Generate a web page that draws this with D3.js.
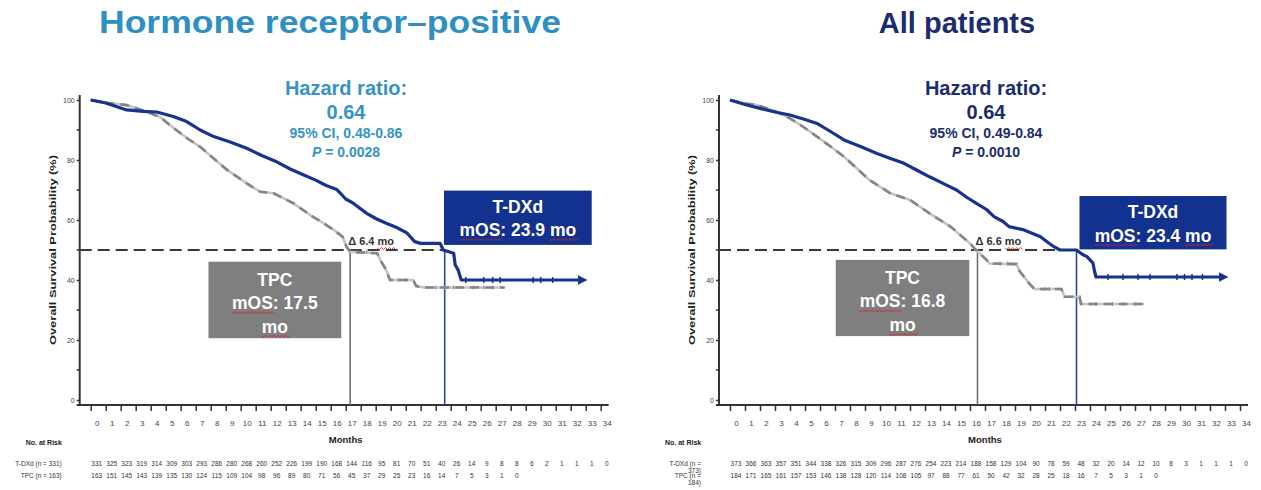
<!DOCTYPE html>
<html>
<head>
<meta charset="utf-8">
<script src="https://cdn.jsdelivr.net/npm/d3@7/dist/d3.min.js"></script>
<style>
  body { margin: 0; background: #fff; }
  svg { display: block; font-family: "Liberation Sans", Arial, sans-serif; }
</style>
</head>
<body>
<svg id="svg" width="1261" height="490"></svg>
<script>
// ---- data ----
const months = d3.range(0, 35);
const yTicks = [0, 20, 40, 60, 80, 100];
const yMinorTicks = [10, 30, 50, 70, 90];

// hormone receptor-positive: [month, survival %]
const hrTdxdCurve = [[0,100],[1,99],[2.4,96.7],[3.5,96.2],[4.4,96],[5.5,94.5],[6.4,92.8],[7.3,90],[8.2,87.8],[9.3,86],[10.4,83.9],[11.4,81.5],[12.4,79.4],[13.3,77],[14.2,75],[15,73.3],[15.7,71.5],[16.4,70.2],[17,67],[17.5,65.6],[18.4,62.2],[19,60.5],[19.7,58.9],[20.4,57.5],[21.1,55.6],[21.6,52.8],[22,52.2],[23.3,52.2],[23.5,50],[24.2,48.9],[24.3,45],[24.5,43.3],[24.7,40],[32.8,40]];
const hrTpcCurve = [[0,100],[1.2,99],[2.4,98.3],[3.5,96.5],[4.6,94.4],[5.7,90],[6.5,87],[7.3,84.4],[8.2,80.5],[9.1,76.7],[10.4,72.2],[11.3,69.4],[12.2,68.9],[13.5,65.6],[14.8,61.1],[15.5,59],[16.2,56.7],[16.8,54.4],[17.05,51.1],[17.3,49.4],[19.1,48.9],[19.3,46.7],[19.7,43.3],[19.95,40],[21.5,40],[21.7,38],[22.2,37.5],[27.6,37.5]];
const hrTdxdCensored = [25, 26.2, 26.8, 27.3, 29.5, 30, 30.8];
const hrTpcCensored = [17.8, 18.4, 20.5, 21, 23, 23.6, 24.2, 25.5, 26.2, 26.8];
const hrMedians = [17.3, 23.6];
const hrRiskTdxd = [331,325,323,319,314,309,303,293,286,280,268,260,252,226,199,190,168,144,116,95,81,70,51,40,26,14,9,8,8,6,2,1,1,1,0];
const hrRiskTpc = [163,151,145,143,139,135,130,124,115,109,104,98,96,89,80,71,56,45,37,29,25,23,16,14,7,5,3,1,0];
const hrStats = ["Hazard ratio:", "0.64", "95% CI, 0.48-0.86", "0.0028"];

// all patients
const allTdxdCurve = [[0,100],[1,98.5],[2,97.2],[3,96],[4,95],[5,93.5],[5.8,92.2],[6.7,89.5],[7.6,86.7],[8.7,84.5],[9.8,82.2],[10.7,80.5],[11.6,78.9],[12.5,76.5],[13.3,74.4],[14.2,72.2],[15.1,70],[15.8,67.5],[16.4,65.6],[17.1,63.5],[17.6,61.1],[18.2,59.5],[18.6,57.8],[19.6,56.7],[20.7,54.4],[21.2,52.5],[21.6,51.1],[22,50],[23.1,50],[23.5,48.5],[23.8,47.8],[24.2,45.6],[24.3,43],[24.4,41],[32.9,41]];
const allTpcCurve = [[0,100],[0.9,99],[1.8,98.3],[2.9,96.5],[4,93.9],[4.9,91],[5.8,87.8],[6.7,84.5],[7.6,81.1],[8.5,77],[9.3,73.3],[10.7,68.9],[12,66.7],[13.3,62.2],[14.7,57.8],[16,52.2],[16.4,50],[17.1,46.7],[17.3,45.5],[19.1,45.3],[19.3,43],[19.6,41.1],[20,38.5],[20.3,37],[22.1,37],[22.3,34.4],[23.3,34.4],[23.4,32],[27.6,32]];
const allTdxdCensored = [25.2, 26.2, 27.2, 28, 29.8, 30.3, 30.8, 31.5];
const allTpcCensored = [18, 18.5, 21, 21.3, 24, 24.4, 25.5, 26.2, 27];
const allMedians = [16.5, 23.1];
const allRiskTdxd = [373,366,363,357,351,344,338,326,315,309,296,287,276,254,223,214,188,158,129,104,90,78,59,48,32,20,14,12,10,8,3,1,1,1,0];
const allRiskTpc = [184,171,165,161,157,153,146,138,128,120,114,108,105,97,88,77,61,50,42,32,28,25,18,16,7,5,3,1,0];
const allStats = ["Hazard ratio:", "0.64", "95% CI, 0.49-0.84", "0.0010"];

const navy = "#18338f";
const svg = d3.select("#svg");

const panels = [
    {
        title: "Hormone receptor\u2013positive", titleColor: "#2f8fc3", statColor: "#3593c6",
        titleX: 330, titleSize: 31, titleWidth: 462,
        x0: 90.7, statX: 346,
        tdxd: hrTdxdCurve, tpc: hrTpcCurve, tdxdCens: hrTdxdCensored, tpcCens: hrTpcCensored,
        medians: hrMedians, riskTdxd: hrRiskTdxd, riskTpc: hrRiskTpc, stats: hrStats,
        tpcBox: { t0: 7.85, t1: 16.7, p0: 46.1, p1: 20.6, text: ["TPC", "mOS: 17.5", "mo"] },
        tdxdBox: { t0: 23.55, t1: 33.4, p0: 69.8, p1: 51.7, text: ["T-DXd", "mOS: 23.9 mo"] },
        delta: "\u0394 6.4 mo",
        riskLabels: [["T-DXd (n = 331)"], ["TPC (n = 163)"]]
    },
    {
        title: "All patients", titleColor: "#1b2d6e", statColor: "#1b2d6e",
        titleX: 957, titleSize: 29, titleWidth: null,
        x0: 730, statX: 986,
        tdxd: allTdxdCurve, tpc: allTpcCurve, tdxdCens: allTdxdCensored, tpcCens: allTpcCensored,
        medians: allMedians, riskTdxd: allRiskTdxd, riskTpc: allRiskTpc, stats: allStats,
        tpcBox: { t0: 7.05, t1: 15.95, p0: 46.7, p1: 21.3, text: ["TPC", "mOS: 16.8", "mo"] },
        tdxdBox: { t0: 23.3, t1: 33.1, p0: 68, p1: 50.2, text: ["T-DXd", "mOS: 23.4 mo"] },
        delta: "\u0394 6.6 mo",
        riskLabels: [["T-DXd (n =", "373)"], ["TPC (n =", "184)"]]
    }
];

svg.append("defs").append("marker")
    .attr("id", "arrow")
    .attr("viewBox", "0 0 10 10")
    .attr("refX", 5).attr("refY", 5)
    .attr("markerWidth", 3).attr("markerHeight", 3)
    .attr("orient", "auto")
    .append("path")
    .attr("d", "M0,0L10,5L0,10z")
    .attr("fill", navy);

function valueAt(curve, t) {
    let v = curve[0][1];
    for (const [ct, cp] of curve) {
        if (ct <= t) v = cp;
    }
    return v;
}

function squiggle(textSel, start, len) {
    const node = textSel.node();
    const p = node.getStartPositionOfChar(start);
    const w = node.getSubStringLength(start, len);
    const yy = p.y + 3.5;
    let d = "M" + p.x + "," + yy;
    for (let i = 0, k = 0; i < w; i += 2, k++) {
        d += "L" + (p.x + i + 2) + "," + (yy + (k % 2 ? -1 : 1));
    }
    svg.append("path")
        .attr("d", d)
        .attr("fill", "none")
        .attr("stroke", "#d2232a")
        .attr("stroke-width", 0.9);
}

function drawPanel(cfg) {
    const x = d3.scaleLinear().domain([0, 34]).range([cfg.x0, cfg.x0 + 510]);
    const y = d3.scaleLinear().domain([0, 100]).range([400, 100]);
    const axisX = cfg.x0 - 11;
    const axisY = 405;
    const g = svg.append("g");

    // title
    const title = svg.append("text")
        .attr("x", cfg.titleX)
        .attr("y", 33)
        .attr("text-anchor", "middle")
        .attr("font-size", cfg.titleSize)
        .attr("font-weight", "bold")
        .attr("fill", cfg.titleColor)
        .text(cfg.title);
    if (cfg.titleWidth) title.attr("textLength", cfg.titleWidth).attr("lengthAdjust", "spacingAndGlyphs");

    // y axis
    const yAxis = g.append("g")
        .attr("transform", `translate(${axisX},0)`)
        .call(d3.axisLeft(y).tickValues(yTicks).tickSize(3).tickPadding(2).tickFormat(d => d));
    yAxis.select(".domain").remove();
    yAxis.selectAll("line").attr("stroke", "#333").attr("stroke-width", 1.5);
    yAxis.selectAll("text").attr("font-size", 7).attr("fill", "#444");
    g.selectAll(".minor-y")
        .data(yMinorTicks)
        .enter().append("line")
        .attr("x1", axisX - 3).attr("x2", axisX)
        .attr("y1", d => y(d)).attr("y2", d => y(d))
        .attr("stroke", "#333").attr("stroke-width", 1.5);
    g.append("line")
        .attr("x1", axisX).attr("x2", axisX)
        .attr("y1", 95).attr("y2", axisY)
        .attr("stroke", "#333").attr("stroke-width", 2);

    // x axis
    const xAxis = g.append("g")
        .attr("transform", `translate(0,${axisY})`)
        .call(d3.axisBottom(x).tickValues(months).tickSize(6).tickSizeOuter(0));
    xAxis.select(".domain").remove();
    xAxis.selectAll("line").attr("stroke", "#333").attr("stroke-width", 1.5);
    xAxis.selectAll("text")
        .attr("font-size", 8)
        .attr("fill", "#444")
        .attr("x", 6)
        .attr("y", 15);
    g.append("line")
        .attr("x1", axisX - 3).attr("x2", x(34) + 8)
        .attr("y1", axisY).attr("y2", axisY)
        .attr("stroke", "#333").attr("stroke-width", 2);

    g.append("text")
        .attr("x", x(17))
        .attr("y", 443)
        .attr("text-anchor", "middle")
        .attr("font-size", 9.5)
        .attr("font-weight", "bold")
        .attr("fill", "#222")
        .text("Months");

    g.append("text")
        .attr("transform", `translate(${axisX - 24},${y(50)}) rotate(-90)`)
        .attr("text-anchor", "middle")
        .attr("font-size", 9)
        .attr("font-weight", "bold")
        .attr("fill", "#222")
        .attr("textLength", 190)
        .attr("lengthAdjust", "spacingAndGlyphs")
        .text("Overall Survival Probability (%)");

    // median reference lines
    g.append("line")
        .attr("x1", axisX).attr("x2", x(cfg.medians[1]))
        .attr("y1", y(50)).attr("y2", y(50))
        .attr("stroke", "#3a3a3a").attr("stroke-width", 2)
        .attr("stroke-dasharray", "12,6");
    g.append("line")
        .attr("x1", x(cfg.medians[0])).attr("x2", x(cfg.medians[0]))
        .attr("y1", y(50)).attr("y2", axisY)
        .attr("stroke", "#6e6e6e").attr("stroke-width", 1.6);
    g.append("line")
        .attr("x1", x(cfg.medians[1])).attr("x2", x(cfg.medians[1]))
        .attr("y1", y(50)).attr("y2", axisY)
        .attr("stroke", "#2c4a9c").attr("stroke-width", 1.6);

    const line = d3.line().x(d => x(d[0])).y(d => y(d[1]));

    // TPC curve: light grey line with darker dashes on top
    g.append("path")
        .datum(cfg.tpc)
        .attr("d", line)
        .attr("fill", "none")
        .attr("stroke", "#c4c4c4")
        .attr("stroke-width", 2.6);
    g.append("path")
        .datum(cfg.tpc)
        .attr("d", line)
        .attr("fill", "none")
        .attr("stroke", "#858585")
        .attr("stroke-width", 2.6)
        .attr("stroke-dasharray", "9,6");
    g.selectAll(".tpc-cens")
        .data(cfg.tpcCens)
        .enter().append("line")
        .attr("x1", d => x(d)).attr("x2", d => x(d))
        .attr("y1", d => y(valueAt(cfg.tpc, d)) - 2)
        .attr("y2", d => y(valueAt(cfg.tpc, d)) + 2)
        .attr("stroke", "#8a8a8a").attr("stroke-width", 1);

    // T-DXd curve
    g.append("path")
        .datum(cfg.tdxd)
        .attr("d", line)
        .attr("fill", "none")
        .attr("stroke", navy)
        .attr("stroke-width", 3.2)
        .attr("stroke-linejoin", "round")
        .attr("marker-end", "url(#arrow)");
    g.selectAll(".tdxd-cens")
        .data(cfg.tdxdCens)
        .enter().append("line")
        .attr("x1", d => x(d)).attr("x2", d => x(d))
        .attr("y1", d => y(valueAt(cfg.tdxd, d)) - 3)
        .attr("y2", d => y(valueAt(cfg.tdxd, d)) + 3)
        .attr("stroke", navy).attr("stroke-width", 1.5);

    // median boxes
    const tb = cfg.tpcBox;
    g.append("rect")
        .attr("x", x(tb.t0)).attr("y", y(tb.p0))
        .attr("width", x(tb.t1) - x(tb.t0)).attr("height", y(tb.p1) - y(tb.p0))
        .attr("fill", "#7f7f7f");
    const tpcCx = (x(tb.t0) + x(tb.t1)) / 2;
    const tpcLines = tb.text.map((s, i) => g.append("text")
        .attr("x", tpcCx)
        .attr("y", y(tb.p0) + 24 + i * 23.5)
        .attr("text-anchor", "middle")
        .attr("font-size", 17.5)
        .attr("font-weight", "bold")
        .attr("fill", "#fff")
        .text(s));
    squiggle(tpcLines[1], 0, 3);
    squiggle(tpcLines[2], 0, 2);

    const db = cfg.tdxdBox;
    g.append("rect")
        .attr("x", x(db.t0)).attr("y", y(db.p0))
        .attr("width", x(db.t1) - x(db.t0)).attr("height", y(db.p1) - y(db.p0))
        .attr("fill", "#13318e");
    const dCx = (x(db.t0) + x(db.t1)) / 2;
    const dLines = db.text.map((s, i) => g.append("text")
        .attr("x", dCx)
        .attr("y", y(db.p0) + 22 + i * 23.5)
        .attr("text-anchor", "middle")
        .attr("font-size", 17.5)
        .attr("font-weight", "bold")
        .attr("fill", "#fff")
        .text(s));
    squiggle(dLines[1], 0, 3);
    squiggle(dLines[1], db.text[1].length - 2, 2);

    const delta = g.append("text")
        .attr("x", x(cfg.medians[0]) - 2)
        .attr("y", y(50) - 5)
        .attr("font-size", 11)
        .attr("font-weight", "bold")
        .attr("fill", "#333")
        .text(cfg.delta);
    squiggle(delta, cfg.delta.length - 2, 2);

    // hazard ratio block
    const st = cfg.stats;
    const hr = g.append("g").attr("fill", cfg.statColor).attr("font-weight", "bold").attr("text-anchor", "middle");
    hr.append("text").attr("x", cfg.statX).attr("y", 95).attr("font-size", 20).text(st[0]);
    hr.append("text").attr("x", cfg.statX).attr("y", 119).attr("font-size", 20).text(st[1]);
    hr.append("text").attr("x", cfg.statX).attr("y", 138).attr("font-size", 14).text(st[2]);
    const pt = hr.append("text").attr("x", cfg.statX).attr("y", 157).attr("font-size", 14);
    pt.append("tspan").attr("font-style", "italic").text("P");
    pt.append("tspan").text(" = " + st[3]);

    // numbers at risk
    const labelX = axisX - 18;
    g.append("text")
        .attr("x", labelX - 36)
        .attr("y", 445)
        .attr("font-size", 7)
        .attr("font-weight", "bold")
        .attr("fill", "#222")
        .text("No. at Risk");
    [cfg.riskTdxd, cfg.riskTpc].forEach((row, r) => {
        const rowY = 466 + r * 12;
        g.selectAll(".risk-" + r)
            .data(row)
            .enter().append("text")
            .attr("x", (d, i) => x(months[i]) + 6)
            .attr("y", rowY)
            .attr("text-anchor", "middle")
            .attr("font-size", 6.5)
            .attr("fill", "#333")
            .text(d => d);
        cfg.riskLabels[r].forEach((s, k) => {
            g.append("text")
                .attr("x", labelX)
                .attr("y", rowY + k * 7)
                .attr("text-anchor", "end")
                .attr("font-size", 6.5)
                .attr("fill", "#333")
                .text(s);
        });
    });
}

panels.forEach(drawPanel);
</script>
</body>
</html>
